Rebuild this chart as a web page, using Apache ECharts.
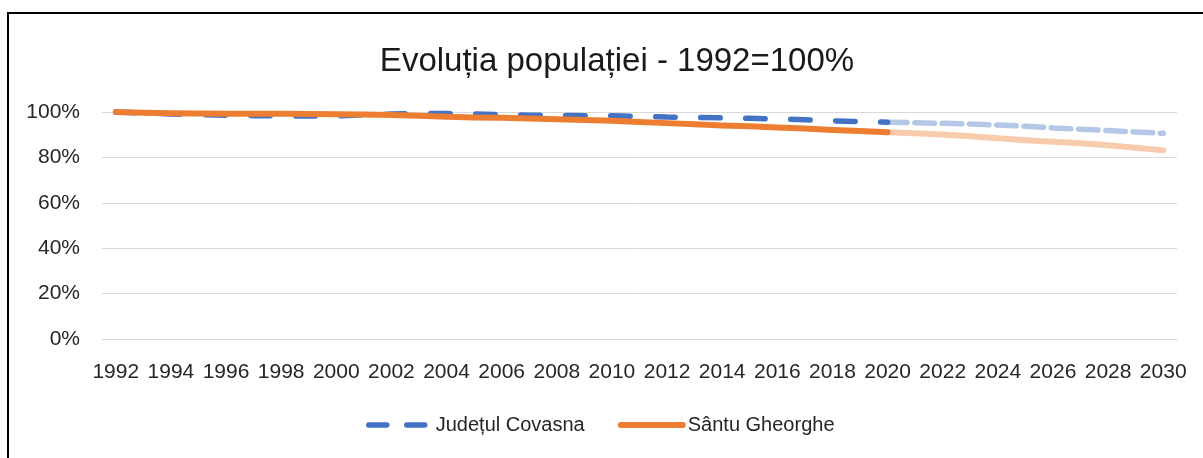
<!DOCTYPE html>
<html>
<head>
<meta charset="utf-8">
<script src="https://cdn.jsdelivr.net/npm/echarts@6/dist/echarts.min.js"></script>
<style>
    html, body { margin: 0; padding: 0; background: #fff; }
    #chart { width: 1203px; height: 458px; }
</style>
</head>
<body>
<div id="chart"></div>
<script>
// ani 1992 - 2030
const years = [];
for (let y = 1992; y <= 2030; y++) years.push(String(y));

// valori reale 1992 - 2020 (%)
const covasnaReal = [100, 99.6, 99.1, 98.8, 98.6, 98.4, 98.3, 98.2, 98.3, 98.7,
    99.1, 99.3, 99.3, 99.1, 98.8, 98.6, 98.5, 98.4, 98.3, 98.1,
    97.8, 97.6, 97.4, 97.2, 96.9, 96.6, 96.1, 95.8, 95.5];
const santuReal = [100, 99.7, 99.5, 99.3, 99.2, 99.2, 99.2, 99.1, 99.0, 98.9,
    98.7, 98.3, 97.9, 97.6, 97.5, 97.1, 96.8, 96.5, 96.1, 95.6,
    95.1, 94.6, 94.1, 93.7, 93.2, 92.7, 92.1, 91.6, 91.1];

// proiectii 2020 - 2030 (%)
const covasnaProj = [95.5, 95.3, 95.0, 94.7, 94.3, 93.7, 93.0, 92.4, 91.8, 91.2, 90.6];
const santuProj = [91.1, 90.6, 90.1, 89.3, 88.4, 87.6, 86.9, 86.2, 85.4, 84.3, 83.1];

const yTicks = [0, 20, 40, 60, 80, 100];

const projStart = covasnaReal.length - 1;
const pad = (arr, before) => new Array(before).fill(null).concat(arr);

var myChart = echarts.init(document.getElementById('chart'));
var option = {
    animation: false,
    backgroundColor: '#fff',
    graphic: [{
        type: 'rect',
        shape: { x: 8, y: 13, width: 1210, height: 470 },
        style: { fill: 'none', stroke: '#000', lineWidth: 2 },
        silent: true
    }],
    title: {
        text: 'Evoluția populației - 1992=100%',
        left: 612,
        top: 40,
        textAlign: 'center',
        textStyle: {
            fontFamily: 'Liberation Sans',
            fontSize: 33,
            fontWeight: 'normal',
            color: '#1a1a1a'
        }
    },
    legend: {
        left: 361,
        top: 410,
        itemWidth: 62,
        itemHeight: 14,
        itemGap: 33,
        textStyle: { fontFamily: 'Liberation Sans', fontSize: 20, color: '#262626' },
        data: [
            {
                name: 'Județul Covasna',
                itemStyle: { color: 'transparent', borderWidth: 0, opacity: 0 },
                lineStyle: { color: '#4472C4', width: 5.5, type: [18, 20], cap: 'round' }
            },
            {
                name: 'Sântu Gheorghe',
                itemStyle: { color: 'transparent', borderWidth: 0, opacity: 0 },
                lineStyle: { color: '#ED7D31', width: 6, cap: 'round' }
            }
        ]
    },
    grid: {
        left: 102,
        right: 26,
        top: 112,
        bottom: 119
    },
    xAxis: {
        type: 'category',
        boundaryGap: true,
        data: years,
        axisLine: { lineStyle: { color: '#d9d9d9', width: 1 } },
        axisTick: { show: false },
        axisLabel: {
            interval: 1,
            margin: 23,
            fontFamily: 'Liberation Sans',
            fontSize: 21,
            color: '#262626'
        }
    },
    yAxis: {
        type: 'value',
        min: yTicks[0],
        max: yTicks[yTicks.length - 1],
        interval: 20,
        axisLine: { show: false },
        axisTick: { show: false },
        splitLine: { lineStyle: { color: '#d9d9d9', width: 1 } },
        axisLabel: {
            formatter: '{value}%',
            margin: 22,
            fontFamily: 'Liberation Sans',
            fontSize: 21,
            color: '#262626'
        }
    },
    series: [
        {
            name: 'Județul Covasna',
            type: 'line',
            symbol: 'none',
            data: covasnaReal,
            lineStyle: { color: '#4472C4', width: 5.5, type: [19.5, 25.5], cap: 'round' },
            itemStyle: { color: '#4472C4' },
            z: 2
        },
        {
            name: 'Sântu Gheorghe',
            type: 'line',
            symbol: 'none',
            data: santuReal,
            lineStyle: { color: '#ED7D31', width: 6, cap: 'round', join: 'round' },
            itemStyle: { color: '#ED7D31' },
            z: 3
        },
        {
            name: 'Covasna proiecție',
            type: 'line',
            symbol: 'none',
            data: pad(covasnaProj, projStart),
            lineStyle: { color: '#B4C7E7', width: 5.5, type: [19.5, 7.8], cap: 'round' },
            z: 1
        },
        {
            name: 'Sântu Gheorghe proiecție',
            type: 'line',
            symbol: 'none',
            data: pad(santuProj, projStart),
            lineStyle: { color: '#F8CBAD', width: 6, cap: 'round', join: 'round' },
            z: 1
        }
    ]
};
myChart.setOption(option);
window.addEventListener('resize', () => {
    myChart.resize();
});
</script>
</body>
</html>
